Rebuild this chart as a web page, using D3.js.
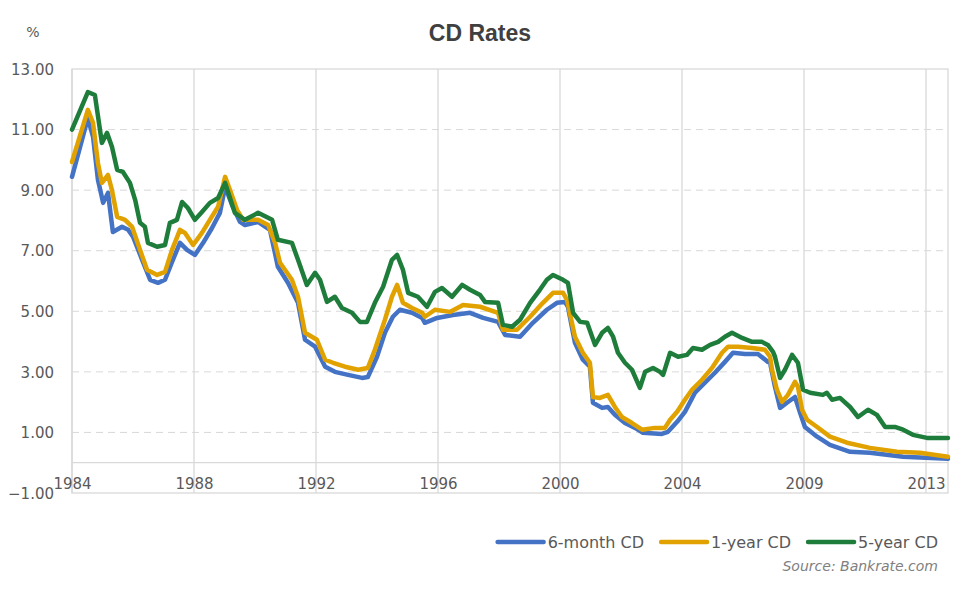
<!DOCTYPE html>
<html>
<head>
<meta charset="utf-8">
<script src="https://cdn.jsdelivr.net/npm/d3@7"></script>
<style>
  body { margin: 0; background: #fff; }
  svg { display: block; }
  .tick text { font-family: "DejaVu Sans", sans-serif; font-size: 15px; fill: #595959; }
</style>
</head>
<body>
<div id="chart"></div>
<script>
// x labels on the category axis (Excel spaces them evenly)
const yearTicks = [1984, 1988, 1992, 1996, 2000, 2004, 2009, 2013];
const rateTicks = [-1, 1, 3, 5, 7, 9, 11, 13];

// [year, rate %]
const sixMonth = [
  [1984.0, 9.44], [1984.52, 11.38], [1984.69, 10.76], [1984.85, 9.34], [1985.02, 8.58],
  [1985.18, 8.91], [1985.34, 7.62], [1985.64, 7.79], [1985.84, 7.69], [1986.0, 7.46],
  [1986.3, 6.7], [1986.56, 6.04], [1986.82, 5.94], [1987.05, 6.04], [1987.28, 6.63],
  [1987.54, 7.26], [1987.77, 7.03], [1988.03, 6.86], [1988.3, 7.26], [1988.59, 7.75],
  [1988.85, 8.25], [1989.02, 9.11], [1989.25, 8.5], [1989.51, 7.95], [1989.67, 7.85],
  [1990.1, 7.95], [1990.49, 7.69], [1990.75, 6.47], [1991.08, 5.94], [1991.41, 5.28],
  [1991.64, 4.06], [1991.97, 3.83], [1992.3, 3.17], [1992.62, 3.0], [1993.05, 2.9],
  [1993.51, 2.8], [1993.7, 2.83], [1994.0, 3.5], [1994.26, 4.29], [1994.52, 4.82],
  [1994.75, 5.05], [1995.15, 4.95], [1995.48, 4.78], [1995.57, 4.62], [1995.97, 4.78],
  [1996.49, 4.88], [1997.05, 4.95], [1997.48, 4.78], [1997.97, 4.65], [1998.2, 4.22],
  [1998.69, 4.16], [1999.11, 4.62], [1999.57, 5.05], [1999.9, 5.28], [2000.16, 5.31],
  [2000.26, 5.15], [2000.49, 3.96], [2000.75, 3.4], [2000.98, 3.17], [2001.08, 1.98],
  [2001.38, 1.81], [2001.57, 1.84], [2001.8, 1.58], [2002.13, 1.31], [2002.46, 1.15],
  [2002.72, 0.99], [2003.34, 0.95], [2003.54, 1.02], [2003.84, 1.35], [2004.12, 1.68],
  [2004.53, 2.31], [2004.94, 2.64], [2005.35, 2.97], [2005.76, 3.33], [2006.09, 3.63],
  [2006.58, 3.59], [2007.11, 3.59], [2007.52, 3.33], [2007.61, 3.3], [2007.81, 2.51],
  [2008.02, 1.81], [2008.3, 1.98], [2008.63, 2.17], [2008.84, 1.65], [2009.03, 1.18],
  [2009.43, 0.86], [2009.85, 0.59], [2010.51, 0.36], [2011.16, 0.33], [2012.25, 0.2],
  [2013.72, 0.13]
];

const oneYear = [
  [1984.0, 9.93], [1984.52, 11.65], [1984.69, 11.22], [1984.85, 9.9], [1984.98, 9.24],
  [1985.18, 9.5], [1985.31, 9.0], [1985.48, 8.12], [1985.74, 8.02], [1985.97, 7.79],
  [1986.23, 7.03], [1986.46, 6.37], [1986.79, 6.2], [1987.05, 6.3], [1987.28, 7.03],
  [1987.54, 7.69], [1987.7, 7.59], [1987.97, 7.19], [1988.26, 7.59], [1988.52, 8.02],
  [1988.79, 8.45], [1989.02, 9.44], [1989.18, 9.0], [1989.41, 8.35], [1989.61, 8.02],
  [1990.1, 8.02], [1990.43, 7.85], [1990.66, 7.26], [1990.82, 6.6], [1991.21, 6.04],
  [1991.41, 5.48], [1991.64, 4.29], [1992.03, 4.06], [1992.3, 3.4], [1992.56, 3.3],
  [1992.95, 3.17], [1993.38, 3.07], [1993.7, 3.13], [1993.93, 3.73], [1994.26, 4.72],
  [1994.49, 5.48], [1994.66, 5.87], [1994.85, 5.28], [1995.15, 5.11], [1995.48, 4.95],
  [1995.57, 4.82], [1995.9, 5.05], [1996.39, 4.98], [1996.82, 5.21], [1997.38, 5.15],
  [1997.97, 4.95], [1998.13, 4.39], [1998.59, 4.39], [1999.02, 4.82], [1999.44, 5.28],
  [1999.77, 5.61], [2000.1, 5.61], [2000.23, 5.38], [2000.49, 4.16], [2000.75, 3.63],
  [2000.98, 3.3], [2001.08, 2.17], [2001.31, 2.14], [2001.57, 2.24], [2001.8, 1.84],
  [2002.03, 1.51], [2002.36, 1.31], [2002.69, 1.09], [2003.11, 1.15], [2003.44, 1.15],
  [2003.61, 1.42], [2003.84, 1.68], [2004.12, 2.08], [2004.41, 2.41], [2004.82, 2.74],
  [2005.23, 3.13], [2005.64, 3.63], [2005.89, 3.83], [2006.3, 3.83], [2006.87, 3.79],
  [2007.4, 3.73], [2007.61, 3.5], [2007.69, 3.07], [2007.89, 2.41], [2008.1, 2.01],
  [2008.34, 2.24], [2008.63, 2.67], [2008.75, 2.51], [2008.92, 1.75], [2009.1, 1.42],
  [2009.43, 1.18], [2009.85, 0.86], [2010.41, 0.66], [2011.16, 0.49], [2012.05, 0.36],
  [2012.8, 0.33], [2013.72, 0.2]
];

const fiveYear = [
  [1984.0, 11.0], [1984.52, 12.24], [1984.75, 12.14], [1984.98, 10.56], [1985.15, 10.89],
  [1985.31, 10.43], [1985.48, 9.67], [1985.67, 9.6], [1985.9, 9.24], [1986.07, 8.68],
  [1986.23, 7.92], [1986.39, 7.79], [1986.49, 7.26], [1986.79, 7.13], [1987.05, 7.19],
  [1987.21, 7.92], [1987.44, 8.02], [1987.61, 8.61], [1987.8, 8.41], [1988.03, 8.02],
  [1988.26, 8.28], [1988.52, 8.58], [1988.79, 8.74], [1989.02, 9.24], [1989.34, 8.25],
  [1989.67, 8.02], [1990.1, 8.25], [1990.56, 8.02], [1990.75, 7.36], [1991.21, 7.26],
  [1991.41, 6.7], [1991.7, 5.87], [1991.97, 6.27], [1992.13, 6.04], [1992.36, 5.31],
  [1992.62, 5.48], [1992.85, 5.11], [1993.18, 4.95], [1993.44, 4.65], [1993.67, 4.65],
  [1993.93, 5.28], [1994.2, 5.81], [1994.49, 6.7], [1994.66, 6.86], [1994.85, 6.37],
  [1995.02, 5.61], [1995.34, 5.48], [1995.64, 5.15], [1995.9, 5.64], [1996.13, 5.77],
  [1996.46, 5.48], [1996.79, 5.87], [1997.05, 5.71], [1997.38, 5.54], [1997.54, 5.31],
  [1997.97, 5.28], [1998.13, 4.55], [1998.43, 4.49], [1998.69, 4.72], [1999.02, 5.28],
  [1999.34, 5.71], [1999.57, 6.04], [1999.77, 6.2], [2000.1, 6.04], [2000.26, 5.94],
  [2000.43, 4.95], [2000.66, 4.65], [2000.89, 4.62], [2001.15, 3.89], [2001.38, 4.29],
  [2001.57, 4.45], [2001.74, 4.16], [2001.9, 3.63], [2002.13, 3.3], [2002.36, 3.07],
  [2002.62, 2.47], [2002.79, 3.0], [2003.05, 3.13], [2003.28, 3.0], [2003.38, 2.9],
  [2003.61, 3.63], [2003.87, 3.5], [2004.2, 3.56], [2004.45, 3.79], [2004.82, 3.73],
  [2005.15, 3.89], [2005.48, 3.99], [2005.76, 4.16], [2006.05, 4.29], [2006.46, 4.12],
  [2006.87, 3.99], [2007.28, 3.99], [2007.52, 3.89], [2007.73, 3.66], [2007.81, 3.5],
  [2008.02, 2.8], [2008.22, 3.07], [2008.51, 3.56], [2008.75, 3.3], [2008.96, 2.41],
  [2009.2, 2.31], [2009.62, 2.24], [2009.75, 2.31], [2009.92, 2.08], [2010.18, 2.14],
  [2010.51, 1.84], [2010.77, 1.51], [2011.1, 1.75], [2011.39, 1.58], [2011.66, 1.18],
  [2011.98, 1.18], [2012.25, 1.09], [2012.57, 0.92], [2013.03, 0.82], [2013.36, 0.82],
  [2013.72, 0.82]
];

const seriesNames = ['6-month CD', '1-year CD', '5-year CD'];
const seriesColors = ['#4472c4', '#e1a200', '#1f7d3b'];

const width = 975, height = 594;
const margin = {top: 69, right: 27, bottom: 101, left: 72};
const plotW = width - margin.left - margin.right;
const plotH = height - margin.top - margin.bottom;

const svg = d3.select('#chart').append('svg')
  .attr('width', width)
  .attr('height', height);

// category-style axis: each labelled year gets the same slot width
const slot = 122;
const x = d3.scaleLinear()
  .domain(yearTicks.concat([yearTicks[yearTicks.length - 1] + 1]))
  .range(yearTicks.map((d, i) => margin.left + i * slot).concat([margin.left + (yearTicks.length - 1) * slot + slot / 4]));

const y = d3.scaleLinear()
  .domain([-1, 13])
  .range([margin.top + plotH, margin.top]);

const gridColor = '#d9d9d9';

// horizontal dashed grid
svg.append('g')
  .selectAll('line')
  .data(rateTicks.filter(d => d > -1 && d < 13))
  .enter().append('line')
    .attr('x1', margin.left)
    .attr('x2', margin.left + plotW)
    .attr('y1', d => y(d))
    .attr('y2', d => y(d))
    .attr('stroke', gridColor)
    .attr('stroke-width', 1)
    .attr('stroke-dasharray', '7,5');

// vertical grid
svg.append('g')
  .selectAll('line')
  .data(yearTicks)
  .enter().append('line')
    .attr('x1', d => x(d))
    .attr('x2', d => x(d))
    .attr('y1', margin.top)
    .attr('y2', margin.top + plotH)
    .attr('stroke', gridColor)
    .attr('stroke-width', 1.3);

// frame and zero line
svg.append('rect')
  .attr('x', margin.left)
  .attr('y', margin.top)
  .attr('width', plotW)
  .attr('height', plotH)
  .attr('fill', 'none')
  .attr('stroke', gridColor)
  .attr('stroke-width', 1.3);

svg.append('line')
  .attr('x1', margin.left)
  .attr('x2', margin.left + plotW)
  .attr('y1', y(0))
  .attr('y2', y(0))
  .attr('stroke', gridColor)
  .attr('stroke-width', 1.3);

// axes (labels only)
const yAxis = svg.append('g')
  .attr('transform', 'translate(' + (margin.left - 15) + ',0)')
  .call(d3.axisLeft(y).tickValues(rateTicks).tickFormat(d3.format('.2f')).tickSize(0));
yAxis.select('.domain').remove();
yAxis.selectAll('text').attr('dy', '0.35em');

const xAxis = svg.append('g')
  .attr('transform', 'translate(0,' + (y(0) + 16) + ')')
  .call(d3.axisBottom(x).tickValues(yearTicks).tickFormat(d3.format('d')).tickSize(0));
xAxis.select('.domain').remove();
xAxis.selectAll('text').attr('dy', '0.71em').attr('y', 0);

// lines
const line = d3.line()
  .x(d => x(d[0]))
  .y(d => y(d[1]));

[sixMonth, oneYear, fiveYear].forEach((data, i) => {
  svg.append('path')
    .datum(data)
    .attr('fill', 'none')
    .attr('stroke', seriesColors[i])
    .attr('stroke-width', 4.5)
    .attr('stroke-linejoin', 'round')
    .attr('stroke-linecap', 'round')
    .attr('d', line);
});

// title and unit
svg.append('text')
  .attr('x', 480)
  .attr('y', 41)
  .attr('text-anchor', 'middle')
  .style('font-family', '"Liberation Sans", Arial, sans-serif')
  .style('font-weight', 'bold')
  .style('font-size', '23px')
  .style('fill', '#404040')
  .text('CD Rates');

svg.append('text')
  .attr('x', 33)
  .attr('y', 37)
  .attr('text-anchor', 'middle')
  .style('font-family', '"DejaVu Sans", sans-serif')
  .style('font-size', '14px')
  .style('fill', '#595959')
  .text('%');

// legend, laid out from the right
const legend = svg.append('g');
const legendRight = 938, legendY = 542, swatch = 46, gap = 4, itemGap = 17;
let cursor = legendRight;
for (let i = seriesNames.length - 1; i >= 0; i--) {
  const t = legend.append('text')
    .attr('y', legendY + 5.5)
    .style('font-family', '"DejaVu Sans", sans-serif')
    .style('font-size', '16px')
    .style('fill', '#595959')
    .text(seriesNames[i]);
  const w = t.node().getComputedTextLength();
  t.attr('x', cursor - w);
  legend.append('line')
    .attr('x1', cursor - w - gap - swatch)
    .attr('x2', cursor - w - gap)
    .attr('y1', legendY)
    .attr('y2', legendY)
    .attr('stroke', seriesColors[i])
    .attr('stroke-width', 4.5)
    .attr('stroke-linecap', 'round');
  cursor = cursor - w - gap - swatch - itemGap;
}

svg.append('text')
  .attr('x', legendRight)
  .attr('y', 571)
  .attr('text-anchor', 'end')
  .style('font-family', '"DejaVu Sans", sans-serif')
  .style('font-style', 'italic')
  .style('font-size', '14px')
  .style('fill', '#808080')
  .text('Source: Bankrate.com');
</script>
</body>
</html>
